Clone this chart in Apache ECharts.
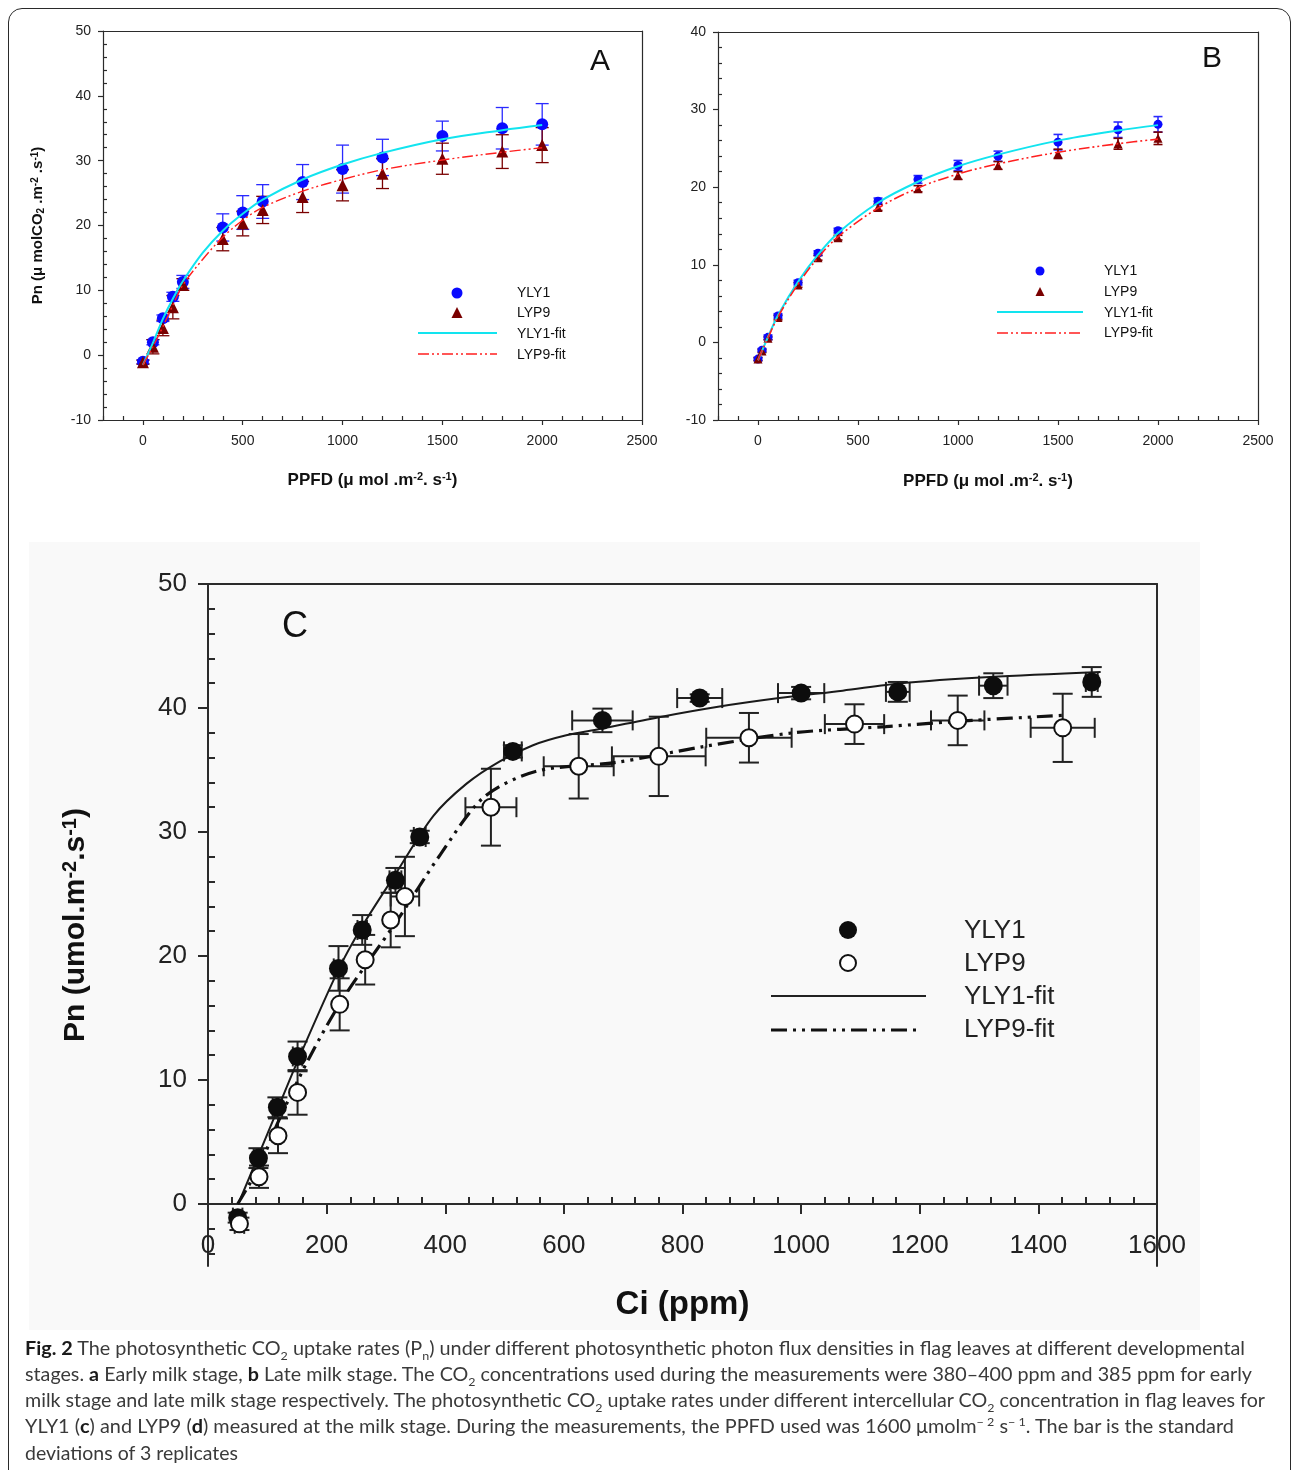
<!DOCTYPE html>
<html><head><meta charset="utf-8">
<script src="https://cdn.jsdelivr.net/npm/echarts@6/dist/echarts.min.js"></script>
<style>
html,body{margin:0;padding:0;background:#fff;}
#wrap{position:relative;width:1292px;height:1470px;overflow:hidden;background:#fff;}
#bgC{position:absolute;left:29px;top:542px;width:1171px;height:788px;background:#f9f9f9;}
#chart{position:absolute;left:0;top:0;width:1292px;height:1470px;}
#frame{position:absolute;left:8px;top:8px;width:1283px;height:1480px;border:1.5px solid #2a2a2a;border-radius:14px;box-sizing:border-box;pointer-events:none;}
.cap{position:absolute;left:25px;height:26px;line-height:26px;white-space:nowrap;font-family:Lato,'Open Sans',sans-serif;font-size:19px;color:#3a3a3a;transform-origin:0 50%;}
.cap b{font-weight:bold;color:#1a1a1a;}
.cap sub,.cap sup{font-size:12px;line-height:0;}
</style></head>
<body>
<div id="wrap">
  <div id="bgC"></div>
  <div id="chart"></div>
  <div id="frame"></div>
  <div class="cap" data-r="1245" style="top:1335px"><b>Fig. 2</b> The photosynthetic CO<sub>2</sub> uptake rates (P<sub>n</sub>) under different photosynthetic photon flux densities in flag leaves at different developmental</div>
  <div class="cap" data-r="1252" style="top:1361px">stages. <b>a</b> Early milk stage, <b>b</b> Late milk stage. The CO<sub>2</sub> concentrations used during the measurements were 380–400 ppm and 385 ppm for early</div>
  <div class="cap" data-r="1265" style="top:1387px">milk stage and late milk stage respectively. The photosynthetic CO<sub>2</sub> uptake rates under different intercellular CO<sub>2</sub> concentration in flag leaves for</div>
  <div class="cap" data-r="1234" style="top:1413px">YLY1 (<b>c</b>) and LYP9 (<b>d</b>) measured at the milk stage. During the measurements, the PPFD used was 1600 μmolm<sup>− 2</sup> s<sup>− 1</sup>. The bar is the standard</div>
  <div class="cap" data-r="238" style="top:1440px">deviations of 3 replicates</div>
</div>
<script>
// ---------------- Panel A (early milk stage) ----------------
const A_ppfd      = [0, 50, 100, 150, 200, 400, 500, 600, 800, 1000, 1200, 1500, 1800, 2000];
const A_yly1      = [-1.0, 2.0, 5.7, 9.0, 11.3, 19.7, 22.0, 23.7, 26.7, 28.7, 30.5, 33.8, 35.0, 35.6];
const A_yly1_sd   = [0.3, 0.4, 0.5, 0.7, 1.0, 2.1, 2.6, 2.6, 2.7, 3.7, 2.8, 2.3, 3.2, 3.2];
const A_lyp9      = [-1.1, 1.3, 4.2, 7.4, 10.9, 17.9, 20.3, 22.4, 24.4, 26.2, 28.0, 30.3, 31.4, 32.4];
const A_lyp9_sd   = [0.3, 1.1, 1.2, 1.8, 0.9, 1.8, 1.9, 2.1, 2.4, 2.4, 2.3, 2.4, 2.6, 2.7];
const A_fit_x     = [0, 50, 100, 150, 200, 300, 400, 500, 600, 800, 1000, 1200, 1500, 1800, 2000];
const A_yly1_fit  = [-1.5, 1.9, 5.6, 8.7, 11.4, 15.8, 19.2, 21.8, 24.0, 27.1, 29.4, 31.2, 33.3, 34.7, 35.5];
const A_lyp9_fit  = [-1.5, 1.3, 4.4, 7.7, 10.8, 14.8, 18.2, 20.8, 22.8, 25.3, 27.1, 28.6, 30.1, 31.3, 32.0];

// ---------------- Panel B (late milk stage) ----------------
const B_ppfd      = [0, 20, 50, 100, 200, 300, 400, 600, 800, 1000, 1200, 1500, 1800, 2000];
const B_yly1      = [-2.15, -1.0, 0.65, 3.4, 7.7, 11.5, 14.4, 18.2, 21.0, 22.8, 24.0, 25.8, 27.4, 28.1];
const B_yly1_sd   = [0.2, 0.2, 0.3, 0.3, 0.3, 0.3, 0.3, 0.4, 0.5, 0.65, 0.65, 1.0, 1.0, 1.0];
const B_lyp9      = [-2.15, -1.1, 0.55, 3.2, 7.4, 10.9, 13.5, 17.4, 19.8, 21.5, 22.8, 24.3, 25.6, 26.3];
const B_lyp9_sd   = [0.2, 0.2, 0.2, 0.3, 0.3, 0.3, 0.3, 0.4, 0.4, 0.5, 0.5, 0.6, 0.7, 0.8];
const B_fit_x     = [0, 20, 50, 100, 200, 300, 400, 600, 800, 1000, 1200, 1500, 1800, 2000];
const B_yly1_fit  = [-2.3, -1.1, 0.7, 3.5, 7.8, 11.3, 14.1, 18.0, 20.7, 22.7, 24.2, 26.0, 27.3, 28.0];
const B_lyp9_fit  = [-2.3, -1.1, 0.6, 3.3, 7.5, 10.9, 13.6, 17.3, 19.9, 21.7, 23.0, 24.5, 25.6, 26.2];

// ---------------- Panel C (Ci response) ----------------
const C_yly1_ci    = [50, 85, 117, 151, 220, 260, 316, 357, 514, 665, 829, 1000, 1163, 1324, 1490];
const C_yly1_pn    = [-1.1, 3.7, 7.8, 11.9, 19.0, 22.1, 26.1, 29.6, 36.5, 39.0, 40.8, 41.2, 41.3, 41.8, 42.1];
const C_yly1_sdPn  = [0.4, 0.8, 0.8, 1.2, 1.8, 1.2, 1.0, 0.5, 0.5, 0.95, 0.3, 0.5, 0.8, 1.0, 1.2];
const C_yly1_sdCi  = [8, 8, 8, 8, 8, 8, 10, 10, 15, 51, 38, 39, 20, 24, 10];
const C_lyp9_ci    = [53, 86, 118, 151, 222, 265, 308, 332, 477, 625, 760, 912, 1090, 1264, 1441];
const C_lyp9_pn    = [-1.6, 2.2, 5.5, 9.0, 16.1, 19.7, 22.9, 24.8, 32.0, 35.3, 36.1, 37.6, 38.7, 39.0, 38.4];
const C_lyp9_sdPn  = [0.5, 0.9, 1.4, 1.8, 2.1, 2.0, 2.2, 3.2, 3.1, 2.6, 3.2, 2.0, 1.6, 2.0, 2.75];
const C_lyp9_sdCi  = [8, 0, 0, 0, 0, 0, 0, 24, 43, 59, 79, 72, 50, 45, 54];
const C_yly1_fit_ci = [51, 84, 117, 150, 220, 260, 316, 380, 436, 492, 548, 604, 660, 765, 860, 963, 1070, 1168, 1318, 1505];
const C_yly1_fit_pn = [0, 3.8, 7.6, 11.4, 18.9, 22.4, 26.6, 31.3, 33.9, 35.7, 37.0, 37.8, 38.3, 39.3, 40.1, 40.8, 41.4, 42.0, 42.5, 42.9];
const C_lyp9_fit_ci = [50, 86, 120, 172, 228, 318, 392, 465, 554, 686, 837, 987, 1143, 1288, 1440];
const C_lyp9_fit_pn = [0, 3.0, 6.8, 11.9, 16.6, 22.8, 28.2, 32.8, 34.9, 35.6, 36.9, 38.0, 38.5, 39.0, 39.4];

// ---------------- tick labels ----------------
const AB_xTicks = [0, 500, 1000, 1500, 2000, 2500];
const A_yTicks  = [-10, 0, 10, 20, 30, 40, 50];
const B_yTicks  = [-10, 0, 10, 20, 30, 40];
const C_xTicks  = [0, 200, 400, 600, 800, 1000, 1200, 1400, 1600];
const C_yTicks  = [0, 10, 20, 30, 40, 50];
const seriesNames = ['YLY1', 'LYP9', 'YLY1-fit', 'LYP9-fit'];

function minorTicks(min, max, step, majors) {
  const out = [];
  for (let v = min; v <= max + 1e-9; v += step) {
    const r = Math.round(v * 1000) / 1000;
    if (majors.indexOf(r) < 0) out.push(r);
  }
  return out;
}
const zip2 = (xs, ys) => xs.map((x, i) => [x, ys[i]]);
const zip4 = (xs, ys, sy, sx) => xs.map((x, i) => [x, ys[i], sy[i], sx ? sx[i] : 0]);
const plain = (v) => String(v);

const FONT = "'Liberation Sans', Arial, Helvetica, sans-serif";
const AX = '#2b2b2b';

const xAxes = [], yAxes = [];
function addAxes(g, o) {
  const ls = { color: AX, width: o.lw };
  const xi = xAxes.length, yi = yAxes.length;
  // offset that puts the x axis on y = 0 when the y range goes below zero
  const xOff = o.xOnZero ? -((0 - o.ymin) / (o.ymax - o.ymin)) * o.gridH : 0;
  xAxes.push({
    gridIndex: g, type: 'value', position: 'bottom', min: o.xmin, max: o.xmax, offset: xOff,
    axisLine: { show: true, onZero: false, lineStyle: ls },
    axisTick: { show: true, inside: false, customValues: o.xMajor, length: o.major, lineStyle: ls },
    axisLabel: { show: true, customValues: o.xMajor, formatter: plain, fontSize: o.fs, margin: o.xMargin, color: '#222', fontFamily: FONT },
    splitLine: { show: false },
    name: o.xName, nameLocation: 'middle', nameGap: o.xGap, nameTextStyle: o.xNameStyle
  });
  xAxes.push({
    gridIndex: g, type: 'value', position: 'bottom', min: o.xmin, max: o.xmax, offset: xOff,
    axisLine: { show: false, onZero: false },
    axisTick: { show: true, inside: true, customValues: o.xMinor, length: o.minor, lineStyle: ls },
    axisLabel: { show: false }, splitLine: { show: false }
  });
  xAxes.push({
    gridIndex: g, type: 'value', position: 'top', min: o.xmin, max: o.xmax,
    axisLine: { show: true, onZero: false, lineStyle: ls },
    axisTick: { show: false }, axisLabel: { show: false }, splitLine: { show: false }
  });
  yAxes.push({
    gridIndex: g, type: 'value', position: 'left', min: o.ymin, max: o.ymax,
    axisLine: { show: true, onZero: false, lineStyle: ls },
    axisTick: { show: true, inside: false, customValues: o.yMajor, length: o.major, lineStyle: ls },
    axisLabel: { show: true, customValues: o.yMajor, formatter: plain, fontSize: o.fs, margin: o.yMargin, color: '#222', fontFamily: FONT },
    splitLine: { show: false },
    name: o.yName || '', nameLocation: 'middle', nameGap: o.yGap, nameTextStyle: o.yNameStyle
  });
  yAxes.push({
    gridIndex: g, type: 'value', position: 'left', min: o.ymin, max: o.ymax,
    axisLine: { show: false, onZero: false },
    axisTick: { show: true, inside: true, customValues: o.yMinor, length: o.minor, lineStyle: ls },
    axisLabel: { show: false }, splitLine: { show: false }
  });
  yAxes.push({
    gridIndex: g, type: 'value', position: 'right', min: o.ymin, max: o.ymax,
    axisLine: { show: true, onZero: false, lineStyle: ls },
    axisTick: { show: false }, axisLabel: { show: false }, splitLine: { show: false }
  });
  return { x: xi, y: yi };
}

const supRich = (fs) => ({
  sup: { fontSize: fs, fontWeight: 'bold', fontFamily: FONT, color: '#111', verticalAlign: 'top', padding: [0, 0, Math.round(fs * 0.6), 0] },
  sub: { fontSize: fs, fontWeight: 'bold', fontFamily: FONT, color: '#111', verticalAlign: 'bottom', padding: [Math.round(fs * 0.6), 0, 0, 0] }
});
const smallName = { fontSize: 17, fontWeight: 'bold', fontFamily: FONT, color: '#111', rich: supRich(11) };

const axA = addAxes(0, {
  xmin: -200, xmax: 2500, xMajor: AB_xTicks, xMinor: minorTicks(-200, 2500, 100, AB_xTicks),
  ymin: -10, ymax: 50, yMajor: A_yTicks, yMinor: minorTicks(-10, 50, 2, A_yTicks),
  fs: 14, lw: 1.2, major: 5, minor: 4, xMargin: 14, yMargin: 12,
  xName: 'PPFD (μ mol .m{sup|-2}. s{sup|-1})', xGap: 51, xNameStyle: smallName,
  yName: 'Pn (μ molCO{sub|2} .m{sup|-2} .s{sup|-1})', yGap: 57,
  yNameStyle: { fontSize: 15, fontWeight: 'bold', fontFamily: FONT, color: '#111', rich: supRich(10) }
});
const axB = addAxes(1, {
  xmin: -200, xmax: 2500, xMajor: AB_xTicks, xMinor: minorTicks(-200, 2500, 100, AB_xTicks),
  ymin: -10, ymax: 40, yMajor: B_yTicks, yMinor: minorTicks(-10, 40, 2, B_yTicks),
  fs: 14, lw: 1.2, major: 5, minor: 4, xMargin: 14, yMargin: 12,
  xName: 'PPFD (μ mol .m{sup|-2}. s{sup|-1})', xGap: 52, xNameStyle: smallName
});
const axC = addAxes(2, {
  xmin: 0, xmax: 1600, xMajor: C_xTicks, xMinor: minorTicks(0, 1600, 40, C_xTicks),
  ymin: -5, ymax: 50, yMajor: C_yTicks, yMinor: minorTicks(-4, 50, 2, C_yTicks),
  fs: 26, lw: 2, major: 10, minor: 7, xMargin: 29, yMargin: 21, xOnZero: true, gridH: 682,
  xName: 'Ci (ppm)', xGap: 84,
  xNameStyle: { fontSize: 33, fontWeight: 'bold', fontFamily: FONT, color: '#111' },
  yName: 'Pn (umol.m{sup|-2}.s{sup|-1})', yGap: 116,
  yNameStyle: { fontSize: 30, fontWeight: 'bold', fontFamily: FONT, color: '#111', rich: supRich(20) }
});

function errRender(color, cap, lw) {
  return function (params, api) {
    const x = api.value(0), y = api.value(1), sy = api.value(2), sx = api.value(3);
    const st = { stroke: color, lineWidth: lw, fill: null };
    const ch = [];
    if (sy > 0) {
      const t = api.coord([x, y + sy]), b = api.coord([x, y - sy]);
      ch.push({ type: 'line', shape: { x1: t[0], y1: t[1], x2: b[0], y2: b[1] }, style: st });
      ch.push({ type: 'line', shape: { x1: t[0] - cap / 2, y1: t[1], x2: t[0] + cap / 2, y2: t[1] }, style: st });
      ch.push({ type: 'line', shape: { x1: b[0] - cap / 2, y1: b[1], x2: b[0] + cap / 2, y2: b[1] }, style: st });
    }
    if (sx > 0) {
      const l = api.coord([x - sx, y]), r = api.coord([x + sx, y]);
      ch.push({ type: 'line', shape: { x1: l[0], y1: l[1], x2: r[0], y2: r[1] }, style: st });
      ch.push({ type: 'line', shape: { x1: l[0], y1: l[1] - cap / 2, x2: l[0], y2: l[1] + cap / 2 }, style: st });
      ch.push({ type: 'line', shape: { x1: r[0], y1: r[1] - cap / 2, x2: r[0], y2: r[1] + cap / 2 }, style: st });
    }
    return { type: 'group', children: ch };
  };
}

function errSeries(ax, name, data, color, cap, lw, z) {
  return { type: 'custom', name: name + ' SD', xAxisIndex: ax.x, yAxisIndex: ax.y, data: data,
    encode: { x: 0, y: 1 }, renderItem: errRender(color, cap, lw), z: z, silent: true, clip: false };
}

const BLUE = '#0a0aff', DRED = '#7a0000', CYAN = '#12e4ef', RED = '#ff1f1f';
const RED_DASH = [11, 3, 2, 3, 2, 3];
const BLK_DASH = [16, 6, 3, 6, 3, 6];

const series = [
  // Panel A
  errSeries(axA, 'YLY1', zip4(A_ppfd, A_yly1, A_yly1_sd), '#2a2aff', 13, 1.3, 2),
  errSeries(axA, 'LYP9', zip4(A_ppfd, A_lyp9, A_lyp9_sd), DRED, 13, 1.3, 2),
  { type: 'scatter', name: seriesNames[0], xAxisIndex: axA.x, yAxisIndex: axA.y, data: zip2(A_ppfd, A_yly1), symbol: 'circle', symbolSize: 12, itemStyle: { color: BLUE, opacity: 1 }, z: 3 },
  { type: 'scatter', name: seriesNames[1], xAxisIndex: axA.x, yAxisIndex: axA.y, data: zip2(A_ppfd, A_lyp9), symbol: 'triangle', symbolSize: 12, itemStyle: { color: DRED, opacity: 1 }, z: 3 },
  { type: 'line', name: seriesNames[2], xAxisIndex: axA.x, yAxisIndex: axA.y, data: zip2(A_fit_x, A_yly1_fit), showSymbol: false, smooth: 0.35, lineStyle: { color: CYAN, width: 2 }, z: 4 },
  { type: 'line', name: seriesNames[3], xAxisIndex: axA.x, yAxisIndex: axA.y, data: zip2(A_fit_x, A_lyp9_fit), showSymbol: false, smooth: 0.35, lineStyle: { color: RED, width: 1.4, type: RED_DASH }, z: 4 },
  // Panel B
  errSeries(axB, 'YLY1', zip4(B_ppfd, B_yly1, B_yly1_sd), '#2a2aff', 9, 1.6, 2),
  errSeries(axB, 'LYP9', zip4(B_ppfd, B_lyp9, B_lyp9_sd), DRED, 9, 1.6, 2),
  { type: 'scatter', name: seriesNames[0], xAxisIndex: axB.x, yAxisIndex: axB.y, data: zip2(B_ppfd, B_yly1), symbol: 'circle', symbolSize: 9, itemStyle: { color: BLUE, opacity: 1 }, z: 3 },
  { type: 'scatter', name: seriesNames[1], xAxisIndex: axB.x, yAxisIndex: axB.y, data: zip2(B_ppfd, B_lyp9), symbol: 'triangle', symbolSize: 9, itemStyle: { color: DRED, opacity: 1 }, z: 3 },
  { type: 'line', name: seriesNames[2], xAxisIndex: axB.x, yAxisIndex: axB.y, data: zip2(B_fit_x, B_yly1_fit), showSymbol: false, smooth: 0.35, lineStyle: { color: CYAN, width: 2 }, z: 4 },
  { type: 'line', name: seriesNames[3], xAxisIndex: axB.x, yAxisIndex: axB.y, data: zip2(B_fit_x, B_lyp9_fit), showSymbol: false, smooth: 0.35, lineStyle: { color: RED, width: 1.6, type: RED_DASH }, z: 4 },
  // Panel C
  errSeries(axC, 'YLY1', zip4(C_yly1_ci, C_yly1_pn, C_yly1_sdPn, C_yly1_sdCi), '#222', 20, 2, 2),
  errSeries(axC, 'LYP9', zip4(C_lyp9_ci, C_lyp9_pn, C_lyp9_sdPn, C_lyp9_sdCi), '#222', 20, 2, 2),
  { type: 'line', name: seriesNames[2], xAxisIndex: axC.x, yAxisIndex: axC.y, data: zip2(C_yly1_fit_ci, C_yly1_fit_pn), showSymbol: false, smooth: 0.3, lineStyle: { color: '#1a1a1a', width: 2 }, z: 3 },
  { type: 'line', name: seriesNames[3], xAxisIndex: axC.x, yAxisIndex: axC.y, data: zip2(C_lyp9_fit_ci, C_lyp9_fit_pn), showSymbol: false, smooth: 0.3, lineStyle: { color: '#111', width: 3.2, type: BLK_DASH }, z: 3 },
  { type: 'scatter', name: seriesNames[0], xAxisIndex: axC.x, yAxisIndex: axC.y, data: zip2(C_yly1_ci, C_yly1_pn), symbol: 'circle', symbolSize: 19, itemStyle: { color: '#0d0d0d', opacity: 1 }, z: 5 },
  { type: 'scatter', name: seriesNames[1], xAxisIndex: axC.x, yAxisIndex: axC.y, data: zip2(C_lyp9_ci, C_lyp9_pn), symbol: 'circle', symbolSize: 17, itemStyle: { color: '#fff', borderColor: '#111', borderWidth: 2, opacity: 1 }, z: 5 }
];

// legends and panel letters (drawn as graphic elements)
function tri(cx, cy, s, color) {
  return { type: 'polygon', shape: { points: [[cx, cy - s * 0.55], [cx - s / 2, cy + s * 0.45], [cx + s / 2, cy + s * 0.45]] }, style: { fill: color } };
}
function txt(x, y, s, fs, fill, align) {
  return { type: 'text', x: x, y: y, style: { text: s, fontSize: fs, fontFamily: FONT, fill: fill || '#111', verticalAlign: 'middle', align: align || 'left' } };
}
function hline(x1, x2, y, color, w, dash) {
  return { type: 'line', shape: { x1: x1, y1: y, x2: x2, y2: y }, style: { stroke: color, lineWidth: w, lineDash: dash || null } };
}
const graphic = [
  // Panel A legend
  { type: 'circle', shape: { cx: 457, cy: 293, r: 5.5 }, style: { fill: BLUE } },
  tri(457, 313, 11, DRED),
  hline(418, 497, 333, CYAN, 2),
  hline(418, 497, 354, RED, 1.4, RED_DASH),
  txt(517, 293, seriesNames[0], 14), txt(517, 313, seriesNames[1], 14),
  txt(517, 334, seriesNames[2], 14), txt(517, 355, seriesNames[3], 14),
  txt(600, 62, 'A', 30, '#111', 'center'),
  // Panel B legend
  { type: 'circle', shape: { cx: 1040, cy: 271, r: 4.5 }, style: { fill: BLUE } },
  tri(1040, 292, 9, DRED),
  hline(997, 1083, 312, CYAN, 2),
  hline(997, 1083, 333, RED, 1.6, RED_DASH),
  txt(1104, 271, seriesNames[0], 14), txt(1104, 292, seriesNames[1], 14),
  txt(1104, 313, seriesNames[2], 14), txt(1104, 333, seriesNames[3], 14),
  txt(1212, 59, 'B', 30, '#111', 'center'),
  // Panel C legend
  { type: 'circle', shape: { cx: 848, cy: 930, r: 9 }, style: { fill: '#0d0d0d' } },
  { type: 'circle', shape: { cx: 848, cy: 963, r: 8 }, style: { fill: '#fff', stroke: '#111', lineWidth: 2 } },
  hline(771, 926, 996, '#222', 2),
  hline(771, 920, 1030, '#111', 3.2, BLK_DASH),
  txt(964, 931, seriesNames[0], 26, '#222'),
  txt(964, 964, seriesNames[1], 26, '#222'),
  txt(964, 997, seriesNames[2], 26, '#222'),
  txt(964, 1030, seriesNames[3], 26, '#222'),
  txt(295, 627, 'C', 36, '#111', 'center')
];

const chart = echarts.init(document.getElementById('chart'), null, { renderer: 'canvas' });
chart.setOption({
  backgroundColor: 'transparent',
  animation: false,
  grid: [
    { left: 103, top: 31, width: 539, height: 389 },
    { left: 718, top: 32, width: 540, height: 388 },
    { left: 208, top: 584, width: 949, height: 682 }
  ],
  xAxis: xAxes,
  yAxis: yAxes,
  series: series,
  graphic: graphic
});

// fit caption lines to the reference widths
function fitCaption() {
  document.querySelectorAll('.cap').forEach(function (el) {
    el.style.transform = 'none';
    const w = el.getBoundingClientRect().width;
    const target = parseFloat(el.getAttribute('data-r')) - 25;
    if (w > 0) el.style.transform = 'scaleX(' + (target / w).toFixed(4) + ')';
  });
}
fitCaption();
if (document.fonts && document.fonts.ready) document.fonts.ready.then(fitCaption);
</script>
</body></html>
